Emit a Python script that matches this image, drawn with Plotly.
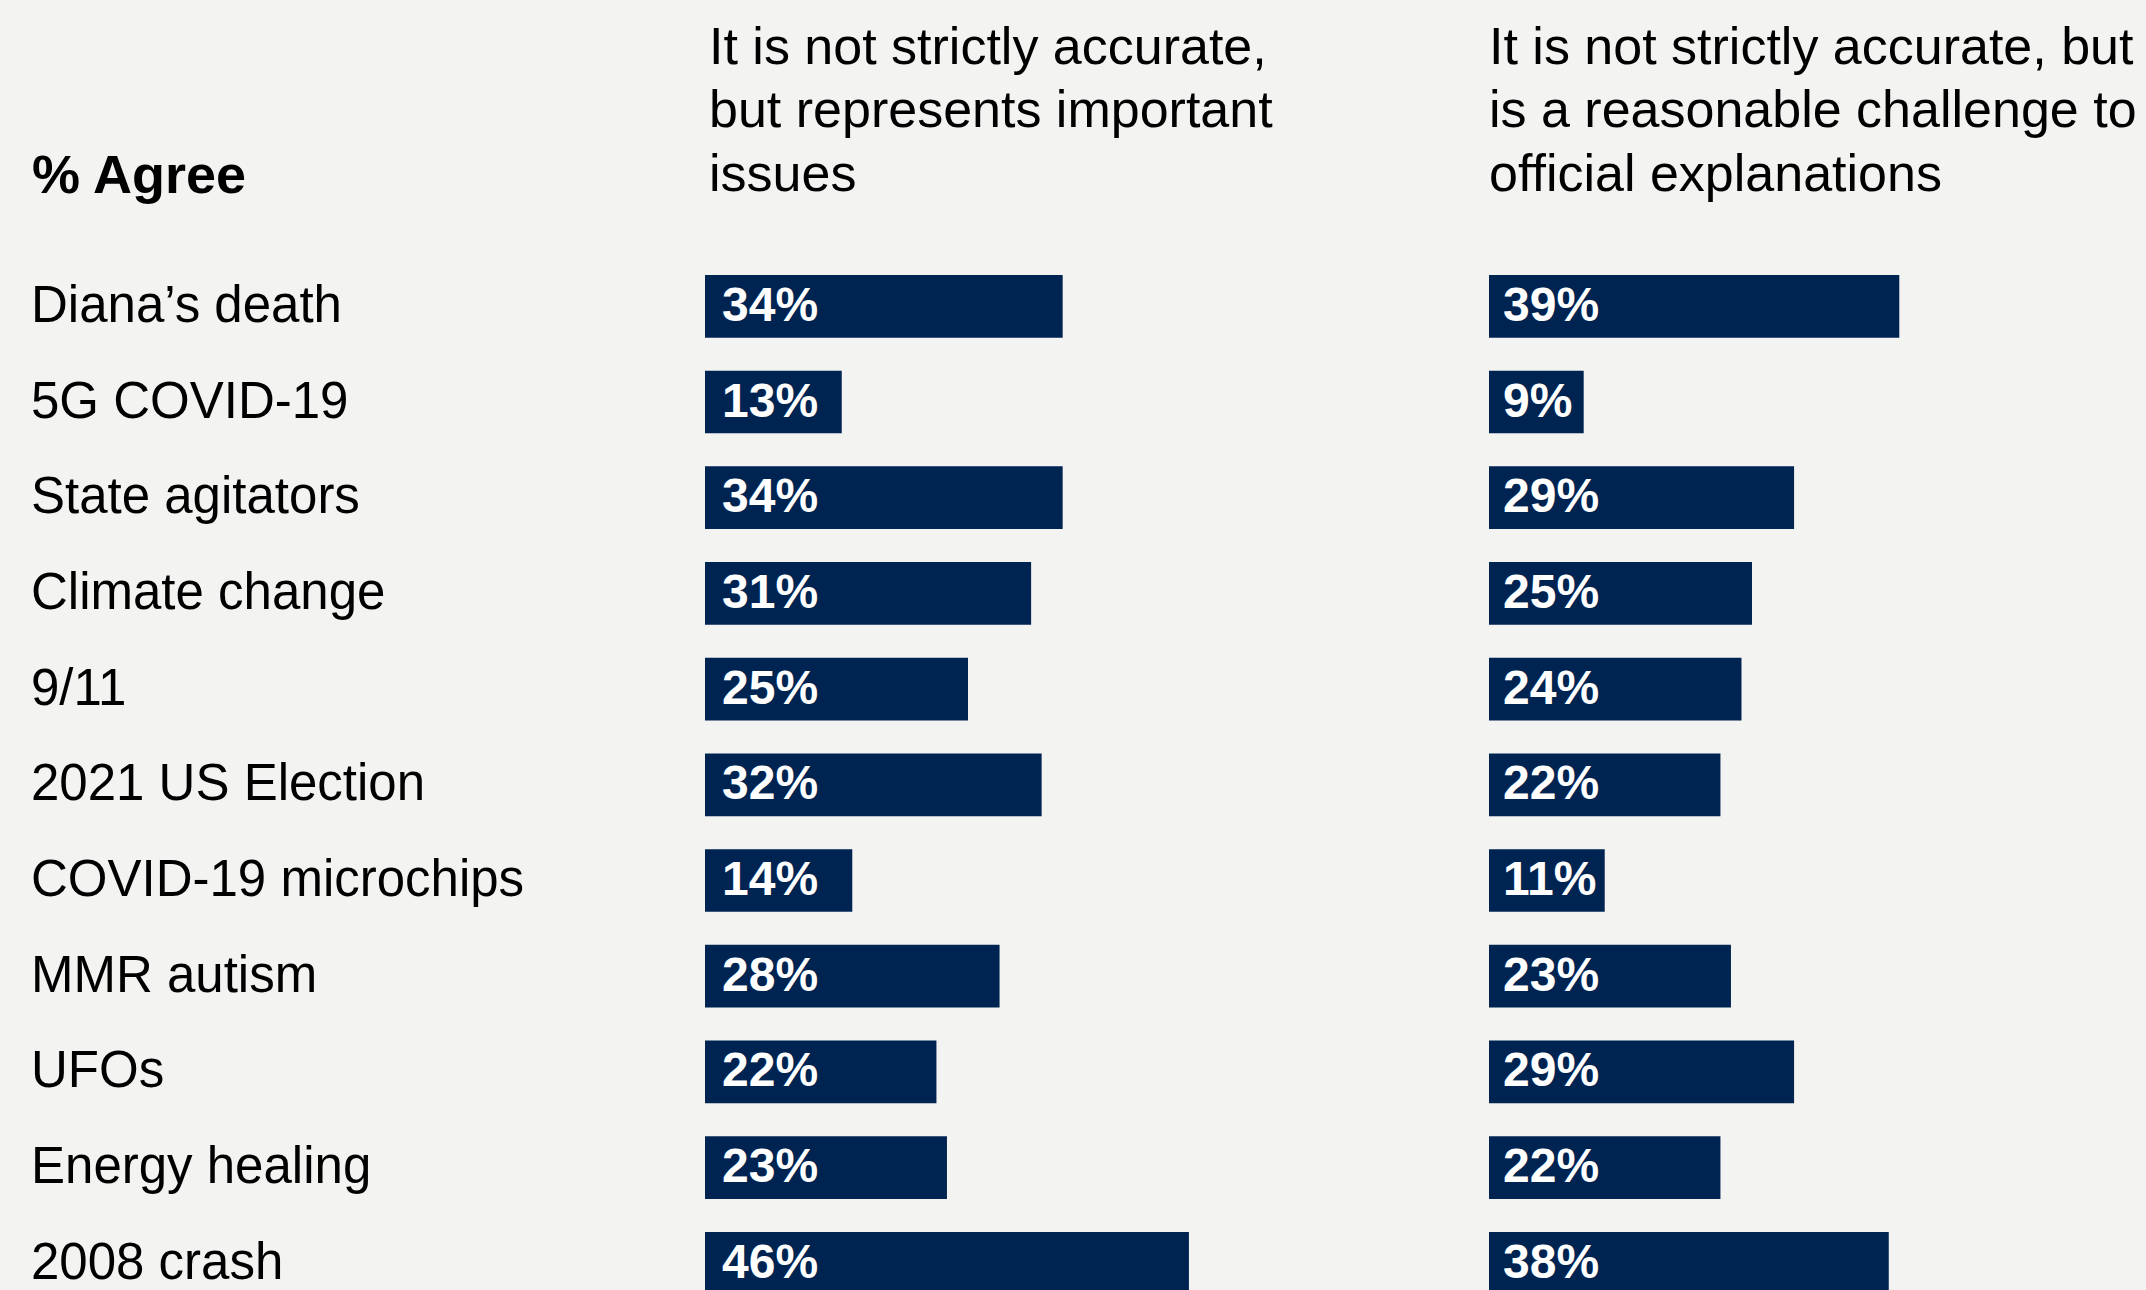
import plotly.graph_objects as go

# Survey rows, top to bottom
categories = [
    "Diana’s death",
    "5G COVID-19",
    "State agitators",
    "Climate change",
    "9/11",
    "2021 US Election",
    "COVID-19 microchips",
    "MMR autism",
    "UFOs",
    "Energy healing",
    "2008 crash",
]

# % agreeing with each statement
important_issues = [34, 13, 34, 31, 25, 32, 14, 28, 22, 23, 46]
reasonable_challenge = [39, 9, 29, 25, 24, 22, 11, 23, 29, 22, 38]

header_left = ["It is not strictly accurate,", "but represents important", "issues"]
header_right = ["It is not strictly accurate, but", "is a reasonable challenge to", "official explanations"]
corner_title = "% Agree"

# ---- layout constants (pixels) ----
W, H = 2146, 1290
BG = "#F3F3F1"
NAVY = "#002452"
FONT = "Liberation Sans, Arial, Helvetica, sans-serif"

PX_PER_PCT = 10.52
X_MAX = 50
PANEL_W = PX_PER_PCT * X_MAX
LEFT_X0 = 705
RIGHT_X0 = 1489

ROW0_CENTER = 306.3
ROW_PITCH = 95.7
BAR_H = 62.7

y_top = -ROW0_CENTER / ROW_PITCH
y_bottom = (H - ROW0_CENTER) / ROW_PITCH

rows = list(range(len(categories)))

fig = go.Figure()
fig.add_trace(go.Bar(
    x=important_issues, y=rows, orientation="h",
    marker=dict(color=NAVY, line=dict(width=0)),
    width=BAR_H / ROW_PITCH, xaxis="x", yaxis="y",
    hoverinfo="skip",
))
fig.add_trace(go.Bar(
    x=reasonable_challenge, y=rows, orientation="h",
    marker=dict(color=NAVY, line=dict(width=0)),
    width=BAR_H / ROW_PITCH, xaxis="x2", yaxis="y",
    hoverinfo="skip",
))

annotations = []

# value labels inside bars
for xref, vals, pad in (("x", important_issues, 15), ("x2", reasonable_challenge, 12)):
    for i, v in enumerate(vals):
        annotations.append(dict(
            x=0, y=i, xref=xref, yref="y", text=f"{v}%",
            xanchor="left", yanchor="middle", xshift=pad, yshift=2,
            showarrow=False,
            font=dict(family=FONT, size=48, color="white", weight="bold"),
        ))

# category labels
for i, c in enumerate(categories):
    annotations.append(dict(
        x=29 / W, y=i, xref="paper", yref="y", text=c,
        xanchor="left", yanchor="middle", yshift=2,
        showarrow=False,
        font=dict(family=FONT, size=51, color="#000000"),
    ))

# column headers, one line at a time
line_centers = [46.3, 109.4, 173.0]
for x0, lines in ((LEFT_X0 + 2, header_left), (RIGHT_X0 - 2, header_right)):
    for yc, line in zip(line_centers, lines):
        annotations.append(dict(
            x=x0 / W, y=1 - yc / H, xref="paper", yref="paper", text=line,
            xanchor="left", yanchor="middle",
            showarrow=False,
            font=dict(family=FONT, size=52, color="#000000"),
        ))

annotations.append(dict(
    x=30 / W, y=1 - 174 / H, xref="paper", yref="paper", text=corner_title,
    xanchor="left", yanchor="middle", showarrow=False,
    font=dict(family=FONT, size=54, color="#000000", weight="bold"),
))

fig.update_layout(
    width=W, height=H,
    margin=dict(l=0, r=0, t=0, b=0, pad=0),
    paper_bgcolor=BG, plot_bgcolor=BG,
    showlegend=False,
    barmode="overlay",
    xaxis=dict(domain=[LEFT_X0 / W, (LEFT_X0 + PANEL_W) / W], range=[0, X_MAX],
               visible=False, fixedrange=True),
    xaxis2=dict(domain=[RIGHT_X0 / W, (RIGHT_X0 + PANEL_W) / W], range=[0, X_MAX],
                visible=False, fixedrange=True, anchor="y"),
    yaxis=dict(domain=[0, 1], range=[y_bottom, y_top], visible=False, fixedrange=True),
    annotations=annotations,
)

fig.write_html("out.html", config={"displayModeBar": False})
